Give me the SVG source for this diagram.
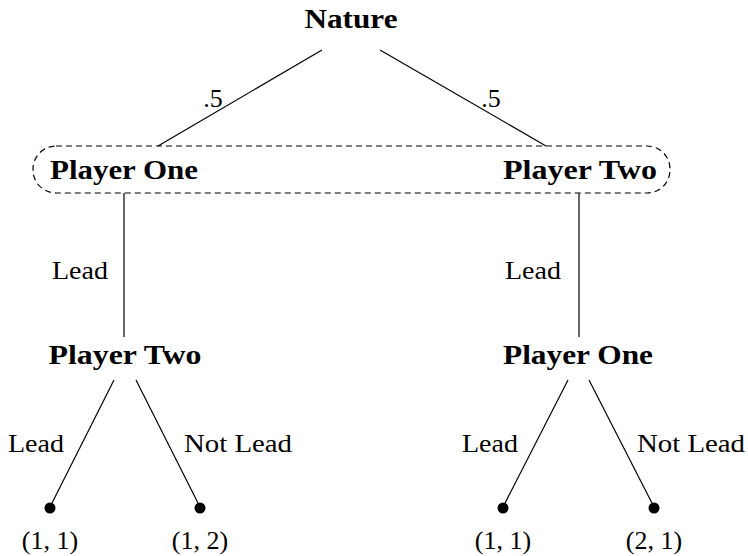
<svg xmlns="http://www.w3.org/2000/svg" width="748" height="556" viewBox="0 0 748 556">
<style>
text{font-family:"Liberation Serif","Times New Roman",serif;fill:#000;}
.b{font-weight:bold;font-size:27px;text-anchor:middle;}
.r{font-size:26px;text-anchor:middle;}
.e{stroke:#000;stroke-width:1.2;fill:none;}
.dot{fill:#000;}
</style>
<rect width="748" height="556" fill="#fff"/>
<g id="connectors">
<line class="e" x1="322" y1="50" x2="158" y2="146"/>
<line class="e" x1="380" y1="50" x2="546" y2="146"/>
<line class="e" x1="124" y1="193" x2="124" y2="337"/>
<line class="e" x1="579" y1="193" x2="579" y2="337"/>
<line class="e" x1="114" y1="380" x2="50" y2="507"/>
<line class="e" x1="136" y1="380" x2="200" y2="507"/>
<line class="e" x1="568" y1="380" x2="503" y2="507"/>
<line class="e" x1="589" y1="380" x2="654" y2="507"/>
<text class="r" x="213" y="107">.5</text>
<text class="r" x="491" y="107">.5</text>
<text class="r" x="80" y="279" textLength="56" lengthAdjust="spacingAndGlyphs">Lead</text>
<text class="r" x="533" y="279" textLength="56" lengthAdjust="spacingAndGlyphs">Lead</text>
<text class="r" x="36" y="452" textLength="56" lengthAdjust="spacingAndGlyphs">Lead</text>
<text class="r" x="238" y="452" textLength="108" lengthAdjust="spacingAndGlyphs">Not Lead</text>
<text class="r" x="490" y="452" textLength="56" lengthAdjust="spacingAndGlyphs">Lead</text>
<text class="r" x="691" y="452" textLength="108" lengthAdjust="spacingAndGlyphs">Not Lead</text>
</g>
<g id="infoset">
<rect x="33" y="146" width="637" height="47" rx="23" ry="23" fill="none" stroke="#000" stroke-width="1.2" stroke-dasharray="6 4"/>
</g>
<g id="nature"><text class="b" x="351" y="28" textLength="93" lengthAdjust="spacingAndGlyphs">Nature</text></g>
<g id="p1-top"><text class="b" x="124" y="179" textLength="148" lengthAdjust="spacingAndGlyphs">Player One</text></g>
<g id="p2-top"><text class="b" x="580" y="179" textLength="154" lengthAdjust="spacingAndGlyphs">Player Two</text></g>
<g id="p2-low"><text class="b" x="125" y="364" textLength="153" lengthAdjust="spacingAndGlyphs">Player Two</text></g>
<g id="p1-low"><text class="b" x="578" y="364" textLength="150" lengthAdjust="spacingAndGlyphs">Player One</text></g>
<g id="leaf1"><circle class="dot" cx="50" cy="508" r="5.5"/><text class="r" x="50" y="549">(1, 1)</text></g>
<g id="leaf2"><circle class="dot" cx="200" cy="508" r="5.5"/><text class="r" x="200" y="549">(1, 2)</text></g>
<g id="leaf3"><circle class="dot" cx="503" cy="508" r="5.5"/><text class="r" x="503" y="549">(1, 1)</text></g>
<g id="leaf4"><circle class="dot" cx="654" cy="508" r="5.5"/><text class="r" x="654" y="549">(2, 1)</text></g>
</svg>
